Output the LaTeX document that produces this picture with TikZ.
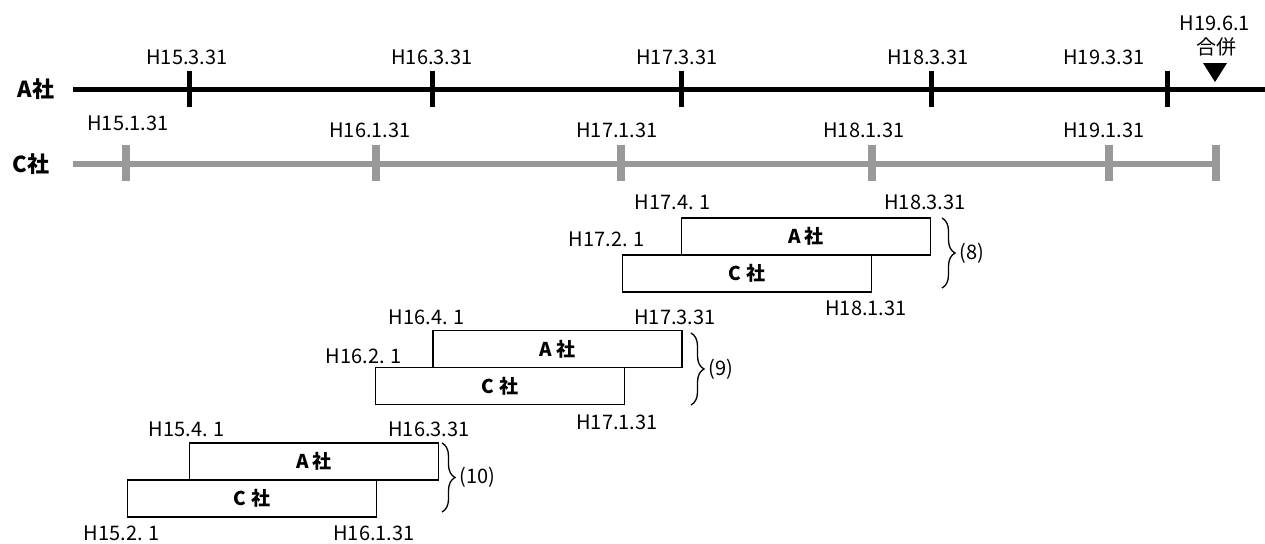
\documentclass[tikz,border=0pt]{standalone}
\usepackage{fontspec}
\setmainfont{Noto Sans CJK JP}
\usetikzlibrary{decorations.pathreplacing}

\tikzstyle{date}=[inner sep=0pt, font=\fontsize{20}{22}\selectfont]
\tikzstyle{firm}=[inner sep=0pt, font=\fontsize{22}{24}\selectfont\bfseries]
\tikzstyle{period}=[rectangle, draw=black, line width=1.4pt, fill=white, minimum width=249pt, minimum height=37pt, inner sep=0pt, font=\fontsize{19}{22}\selectfont\bfseries]
\tikzstyle{lineA}=[line width=5pt, black]
\tikzstyle{lineC}=[line width=6pt, black!40]
\tikzstyle{tickA}=[line width=5pt, black]
\tikzstyle{tickC}=[line width=8pt, black!40]
\tikzstyle{pair}=[decorate, decoration={brace, amplitude=13pt}, line width=1.3pt]

\begin{document}
\begin{tikzpicture}[x=1pt, y=-1pt]
\useasboundingbox (0,0) rectangle (1265,543);
% time lines
\node (firmA) [firm] at (36,89) {A社};
\node (firmC) [firm] at (31,164) {C社};
\coordinate (Abeg) at (73,89);
\coordinate (Aend) at (1265,89);
\coordinate (Cbeg) at (73,164);
\coordinate (Cend) at (1216,164);
\draw[lineA] (Abeg) -- (Aend);
\draw[lineC] (Cbeg) -- (Cend);
\foreach \x/\lx/\d [count=\i] in {189/187/H15.3.31, 432/432/H16.3.31, 681/677/H17.3.31, 931/928/H18.3.31, 1167/1104/H19.3.31}{
  \draw[tickA] (\x,71) -- (\x,107);
  \node (dA\i) [date] at (\lx,57) {\d};
}
\foreach \x/\lx/\ly/\d [count=\i] in {126/128/123/H15.1.31, 376/370/130/H16.1.31, 621/617/130/H17.1.31, 872/864/130/H18.1.31, 1109/1104/130/H19.1.31}{
  \draw[tickC] (\x,145) -- (\x,181);
  \node (dC\i) [date] at (\lx,\ly) {\d};
}
\draw[tickC] (1216,145) -- (1216,181);
% merger
\node (mdate) [date] at (1215,23) {H19.6.1};
\node (mtext) [date] at (1216,47) {合併};
\fill (1203,63) -- (1227,63) -- (1215,82) -- cycle;

% (8)
\node (A8) [period] at (806,236.5) {A 社};
\node (C8) [period] at (747,273.5) {C 社};
\node (s8a) [date] at (673,202) {H17.4. 1};
\node (e8a) [date] at (925,202) {H18.3.31};
\node (s8c) [date] at (607,239) {H17.2. 1};
\node (e8c) [date] at (866,308) {H18.1.31};
\draw[pair] (942,218) -- (942,288) node (n8) [date, midway, right=17pt] {(8)};

% (9)
\node (A9) [period] at (557.5,349) {A 社};
\node (C9) [period] at (500,386) {C 社};
\node (s9a) [date] at (427,317) {H16.4. 1};
\node (e9a) [date] at (675,317) {H17.3.31};
\node (s9c) [date] at (364,356) {H16.2. 1};
\node (e9c) [date] at (617,422) {H17.1.31};
\draw[pair] (691,333) -- (691,405) node (n9) [date, midway, right=17pt] {(9)};

% (10)
\node (A10) [period] at (314,461.5) {A 社};
\node (C10) [period] at (252,498.5) {C 社};
\node (s10a) [date] at (187,429) {H15.4. 1};
\node (e10a) [date] at (429,429) {H16.3.31};
\node (s10c) [date] at (122,533) {H15.2. 1};
\node (e10c) [date] at (374,533) {H16.1.31};
\draw[pair] (442,443) -- (442,512) node (n10) [date, midway, right=17pt] {(10)};
\end{tikzpicture}
\end{document}
